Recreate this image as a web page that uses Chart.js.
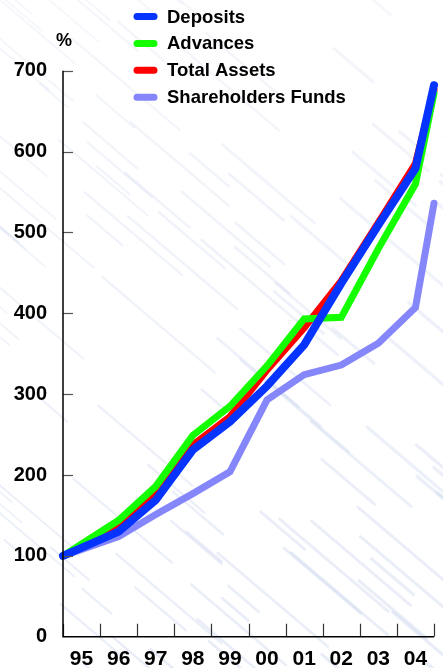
<!DOCTYPE html>
<html>
<head>
<meta charset="utf-8">
<script src="https://cdn.jsdelivr.net/npm/chart.js@4.4.1/dist/chart.umd.min.js"></script>
<style>
  html, body { margin: 0; padding: 0; background: #ffffff; }
  #wrap { width: 443px; height: 668px; position: relative; }
</style>
</head>
<body>
<div id="wrap"><canvas id="c" width="443" height="668"></canvas></div>
<script>
// ---- data ----
const years = ['95', '96', '97', '98', '99', '00', '01', '02', '03', '04'];
// x position of each point in axis units (0 = start of '95, 10 = end of '04)
const pointPos = [0, 1.5, 2.5, 3.5, 4.5, 5.5, 6.5, 7.5, 8.5, 9.5, 10];
const deposits      = [100, 130, 169, 231, 266, 310, 361, 437, 509, 579, 682];
const advances      = [100, 144, 186, 249, 285, 335, 393, 395, 480, 560, 672];
const totalAssets   = [100, 136, 177, 237, 272, 330, 382, 440, 512, 585, 676];
const shareholders  = [100, 124, 151, 177, 204, 293, 324, 336, 363, 407, 536];
const yTicks = [0, 100, 200, 300, 400, 500, 600, 700];
const yUnit = '%';

function toXY(vals) { return vals.map((v, i) => ({ x: pointPos[i], y: v })); }

const FONT = '"Liberation Sans", Arial, Helvetica, sans-serif';

const bgPlugin = {
  id: 'bg',
  beforeDraw(chart) {
    const ctx = chart.ctx;
    ctx.save();
    ctx.fillStyle = '#ffffff';
    ctx.fillRect(0, 0, chart.width, chart.height);
    // faint diagonal streaks (decorative background)
    ctx.lineCap = 'round';
    for (let k = 0; k < 160; k++) {
      const s = Math.sin(k * 12.9898) * 43758.5453;
      const f = s - Math.floor(s);
      const s2 = Math.sin(k * 78.233) * 12345.678;
      const f2 = s2 - Math.floor(s2);
      const s3 = Math.sin(k * 39.425) * 24634.634;
      const f3 = s3 - Math.floor(s3);
      const x0 = f3 * 700 - 250;
      const y0 = f2 * 760 - 60;
      const len = 25 + f * 90;
      ctx.strokeStyle = 'rgba(200,210,235,' + (0.18 + 0.25 * f2).toFixed(2) + ')';
      ctx.lineWidth = 1 + 2.5 * f3;
      ctx.beginPath();
      ctx.moveTo(x0, y0);
      ctx.lineTo(x0 + len, y0 + len * 0.85);
      ctx.stroke();
    }
    ctx.restore();
  }
};

const axisPlugin = {
  id: 'axisDeco',
  afterDatasetsDraw(chart) {
    const ctx = chart.ctx;
    const xs = chart.scales.x, ys = chart.scales.y;
    const ca = chart.chartArea;
    ctx.save();
    // inward y ticks
    ctx.strokeStyle = '#555555';
    ctx.lineWidth = 1.2;
    yTicks.forEach(v => {
      if (v === 0) return;
      const y = Math.round(ys.getPixelForValue(v)) + 0.5;
      ctx.beginPath();
      ctx.moveTo(ca.left, y);
      ctx.lineTo(ca.left + 10, y);
      ctx.stroke();
    });
    // inward x ticks at year boundaries
    ctx.strokeStyle = '#333333';
    for (let i = 0; i <= years.length; i++) {
      const x = Math.round(xs.getPixelForValue(i)) + 0.5;
      ctx.beginPath();
      ctx.moveTo(x, ca.bottom);
      ctx.lineTo(x, ca.bottom - 13);
      ctx.stroke();
    }
    // axis lines
    ctx.strokeStyle = '#000000';
    ctx.lineWidth = 1.5;
    ctx.beginPath();
    ctx.moveTo(ca.left, ys.getPixelForValue(700));
    ctx.lineTo(ca.left, ca.bottom);
    ctx.lineTo(xs.getPixelForValue(10), ca.bottom);
    ctx.stroke();
    // unit label
    ctx.fillStyle = '#000';
    ctx.font = 'bold 18px ' + FONT;
    ctx.textAlign = 'center';
    ctx.textBaseline = 'middle';
    ctx.fillText(yUnit, 64, 41);
    ctx.restore();
  },
  afterDraw(chart) {
    // legend
    const ctx = chart.ctx;
    ctx.save();
    ctx.font = 'bold 18.5px ' + FONT;
    ctx.textAlign = 'left';
    ctx.textBaseline = 'middle';
    chart.data.datasets.forEach((ds, i) => {
      const y = 16.5 + i * 26.9;
      ctx.strokeStyle = ds.borderColor;
      ctx.lineWidth = 7;
      ctx.lineCap = 'round';
      ctx.beginPath();
      ctx.moveTo(137, y);
      ctx.lineTo(154, y);
      ctx.stroke();
      ctx.fillStyle = '#000';
      ctx.fillText(ds.label, 167, y + 1);
    });
    ctx.restore();
  }
};

const common = { fill: false, pointRadius: 0, pointHoverRadius: 0, tension: 0, clip: false,
                 borderCapStyle: 'round', borderJoinStyle: 'miter' };

new Chart(document.getElementById('c'), {
  type: 'line',
  data: {
    datasets: [
      { ...common, label: 'Deposits', data: toXY(deposits), borderColor: '#0533ff', borderWidth: 8 },
      { ...common, label: 'Advances', data: toXY(advances), borderColor: '#14ff00', borderWidth: 7 },
      { ...common, label: 'Total Assets', data: toXY(totalAssets), borderColor: '#ff0000', borderWidth: 7 },
      { ...common, label: 'Shareholders Funds', data: toXY(shareholders), borderColor: '#8686fb', borderWidth: 7 }
    ]
  },
  options: {
    responsive: false,
    animation: false,
    devicePixelRatio: 1,
    layout: { padding: { top: 70.7, right: 9, left: 0, bottom: 0 } },
    plugins: { legend: { display: false }, tooltip: { enabled: false } },
    scales: {
      x: {
        type: 'linear', min: 0, max: 10,
        grid: { display: false },
        border: { display: false },
        ticks: {
          stepSize: 0.5, autoSkip: false, maxRotation: 0, minRotation: 0,
          padding: 2, color: '#000',
          font: { family: FONT, size: 21, weight: 'bold' },
          callback: v => (Math.abs(v % 1 - 0.5) < 1e-6 ? years[Math.floor(v)] : '')
        },
        afterFit: s => { s.height = 31.3; }
      },
      y: {
        min: 0, max: 700,
        grid: { display: false },
        border: { display: false },
        afterBuildTicks: s => { s.ticks = yTicks.map(v => ({ value: v })); },
        ticks: {
          padding: 8, color: '#000',
          font: { family: FONT, size: 20, weight: 'bold' }
        },
        afterFit: s => { s.width = 63; }
      }
    }
  },
  plugins: [bgPlugin, axisPlugin]
});
</script>
</body>
</html>
